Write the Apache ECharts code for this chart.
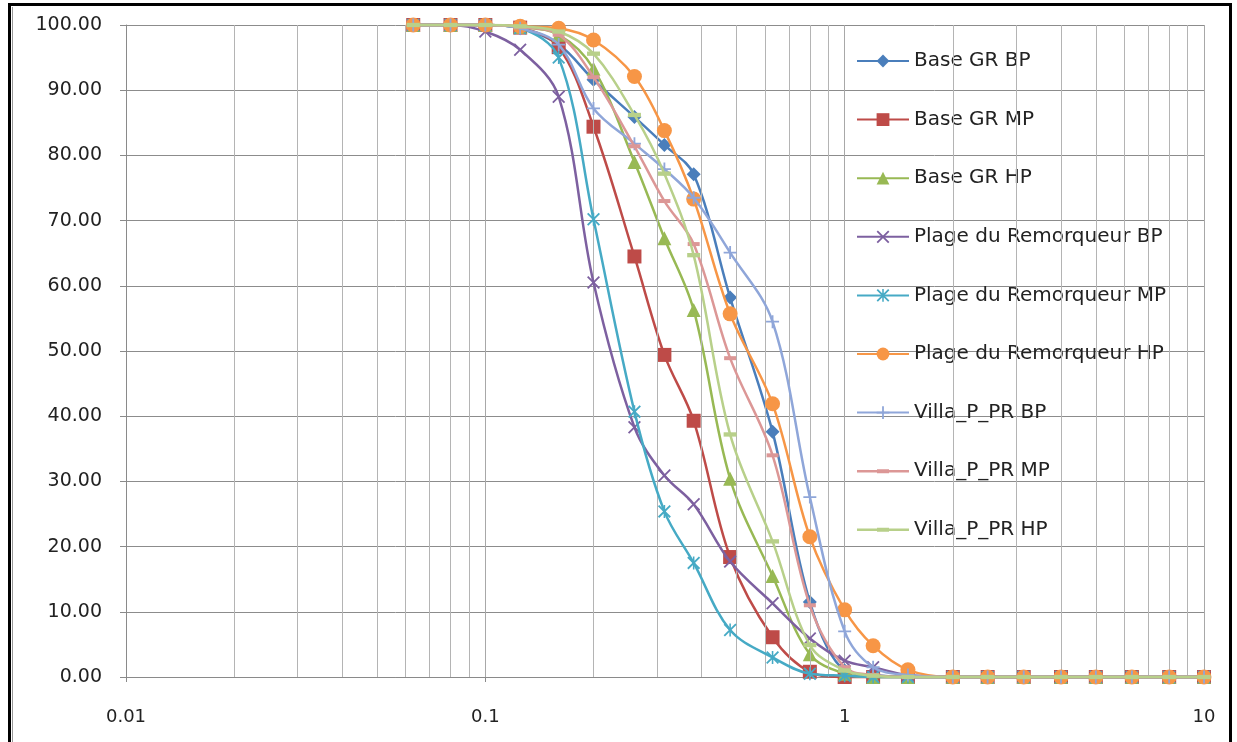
<!DOCTYPE html>
<html>
<head>
<meta charset="utf-8">
<script src="https://cdn.jsdelivr.net/npm/echarts@6/dist/echarts.min.js"></script>
<style>
  html, body { margin: 0; padding: 0; background: #fff; overflow: hidden; }
  #frame { position: absolute; left: 8px; top: 3px; width: 1218px; height: 760px; border: 3px solid #000; box-sizing: content-box; }
  #inner { position: absolute; left: 12px; top: 7px; width: 1214px; height: 760px; border-left: 1px solid #999; }
  #chart { position: absolute; left: 0; top: 0; width: 1237px; height: 742px; }
</style>
</head>
<body>
<div id="frame"></div>
<div id="inner"></div>
<div id="chart"></div>
<script>
// ---- data ----
const sizes = [0.063, 0.08, 0.1, 0.125, 0.16, 0.2, 0.26, 0.315, 0.38, 0.48, 0.63, 0.8, 1, 1.2, 1.5, 2, 2.5, 3.15, 4, 5, 6.3, 8, 10];
const baseGrBP = [100, 100, 100, 99.5, 97.0, 91.6, 85.9, 81.6, 77.1, 58.2, 37.6, 11.5, 1.0, 0.3, 0, 0, 0, 0, 0, 0, 0, 0, 0];
const baseGrMP = [100, 100, 100, 99.6, 96.6, 84.4, 64.5, 49.4, 39.3, 18.4, 6.1, 0.8, 0, 0, 0, 0, 0, 0, 0, 0, 0, 0, 0];
const baseGrHP = [100, 100, 100, 99.7, 98.5, 93.3, 79.0, 67.3, 56.3, 30.4, 15.5, 3.5, 0.5, 0, 0, 0, 0, 0, 0, 0, 0, 0, 0];
const plageBP = [100, 100, 99.0, 96.2, 89.0, 60.5, 38.3, 30.9, 26.5, 17.7, 11.3, 5.9, 2.5, 1.5, 0.3, 0, 0, 0, 0, 0, 0, 0, 0];
const plageMP = [100, 100, 100, 99.5, 95.0, 70.2, 40.7, 25.4, 17.5, 7.2, 3.0, 0.5, 0.2, 0, 0, 0, 0, 0, 0, 0, 0, 0, 0];
const plageHP = [100, 100, 100, 99.8, 99.5, 97.7, 92.1, 83.8, 73.3, 55.7, 41.9, 21.5, 10.3, 4.8, 1.1, 0, 0, 0, 0, 0, 0, 0, 0];
const villaBP = [100, 100, 100, 99.5, 97.0, 87.2, 81.8, 77.9, 73.5, 65.1, 54.5, 27.6, 7.0, 1.5, 0.3, 0, 0, 0, 0, 0, 0, 0, 0];
const villaMP = [100, 100, 100, 99.7, 98.5, 92.0, 81.4, 73.0, 66.4, 48.9, 34.0, 11.0, 1.5, 0.3, 0, 0, 0, 0, 0, 0, 0, 0, 0];
const villaHP = [100, 100, 100, 99.8, 99.0, 95.6, 86.2, 77.2, 64.7, 37.2, 20.8, 4.9, 1.0, 0.2, 0, 0, 0, 0, 0, 0, 0, 0, 0];
const seriesNames = ['Base GR BP', 'Base GR MP', 'Base GR HP', 'Plage du Remorqueur BP', 'Plage du Remorqueur MP', 'Plage du Remorqueur HP', 'Villa_P_PR BP', 'Villa_P_PR MP', 'Villa_P_PR HP'];
const xTickLabels = { '0.01': '0.01', '0.1': '0.1', '1': '1', '10': '10' };
const minorGridValues = [0.02, 0.03, 0.04, 0.05, 0.06, 0.07, 0.08, 0.09, 0.2, 0.3, 0.4, 0.5, 0.6, 0.7, 0.8, 0.9, 2, 3, 4, 5, 6, 7, 8, 9];

// ---- styles ----
const colors = ['#4a7ebb', '#be4b48', '#98b954', '#7d60a0', '#46aac5', '#f79646', '#8fa6d9', '#dc9796', '#b8d08a'];
const SYM_X = 'path://M0,1L1,0L10,9L9,10Z M9,0L10,1L1,10L0,9Z';
const SYM_STAR = 'path://M0,1L1,0L10,9L9,10Z M9,0L10,1L1,10L0,9Z M4.4,0H5.6V10H4.4Z';
const SYM_PLUS = 'path://M4.3,0H5.7V10H4.3Z M0,4.3H10V5.7H0Z';
const SYM_DASH = 'path://M0,0H12V4H0Z';
// legend icon for dash-marker series: line + dash, with tiny corner specks to fix the 52x16 box
const LEGEND_DASH_ICON = 'path://M0,0H0.01V0.01H0Z M51.99,15.99H52V16H51.99Z M0,6.8H52V9.2H0Z M20,6H32V10H20Z';
const symbols = ['diamond', 'rect', 'triangle', SYM_X, SYM_STAR, 'circle', SYM_PLUS, SYM_DASH, SYM_DASH];
const symbolSizes = [14, 14, 14, 13, 13, 15, 13, 12, 13];
const allData = [baseGrBP, baseGrMP, baseGrHP, plageBP, plageMP, plageHP, villaBP, villaMP, villaHP];

const series = [{
  name: '__grid',
  type: 'line',
  data: [],
  z: 1,
  silent: true,
  markLine: {
    silent: true,
    symbol: 'none',
    animation: false,
    label: { show: false },
    lineStyle: { color: '#b4b4b4', width: 1, type: 'solid' },
    data: minorGridValues.map(v => ({ xAxis: v }))
  }
}];
allData.forEach((arr, i) => {
  series.push({
    name: seriesNames[i],
    type: 'line',
    data: sizes.map((x, j) => [x, arr[j]]),
    smooth: 0.35,
    symbol: symbols[i],
    symbolSize: symbolSizes[i],
    symbolKeepAspect: true,
    showAllSymbol: true,
    clip: false,
    z: 2 + i,
    lineStyle: { color: colors[i], width: 2.5 },
    itemStyle: { color: colors[i] },
    animation: false
  });
});

const legendData = seriesNames.map((n, i) => (symbols[i] === SYM_DASH ? { name: n, icon: LEGEND_DASH_ICON } : { name: n }));

const chart = echarts.init(document.getElementById('chart'), null, { renderer: 'canvas' });
chart.setOption({
  animation: false,
  backgroundColor: 'transparent',
  grid: { left: 126, right: 33, top: 25, bottom: 65 },
  legend: {
    data: legendData,
    orient: 'vertical',
    left: 851,
    top: 46,
    itemWidth: 52,
    itemHeight: 16,
    itemGap: 38.6,
    textStyle: { fontFamily: 'DejaVu Sans', fontSize: 20, color: '#222' },
    selectedMode: false
  },
  xAxis: {
    type: 'log',
    logBase: 10,
    min: 0.01,
    max: 10,
    axisLine: { show: true, lineStyle: { color: '#8a8a8a', width: 1 } },
    axisTick: { show: true, length: 5, lineStyle: { color: '#8a8a8a' } },
    axisLabel: {
      margin: 31,
      fontFamily: 'DejaVu Sans',
      fontSize: 18,
      color: '#222',
      formatter: v => xTickLabels[String(+v.toPrecision(3))] || String(+v.toPrecision(3))
    },
    splitLine: { show: true, lineStyle: { color: '#a8a8a8', width: 1 } }
  },
  yAxis: {
    type: 'value',
    min: 0,
    max: 100,
    interval: 10,
    axisLine: { show: true, lineStyle: { color: '#8a8a8a', width: 1 } },
    axisTick: { show: true, length: 6, lineStyle: { color: '#8a8a8a' } },
    axisLabel: {
      margin: 24,
      fontFamily: 'DejaVu Sans',
      fontSize: 19,
      color: '#222',
      formatter: v => v.toFixed(2)
    },
    splitLine: { show: true, lineStyle: { color: '#8c8c8c', width: 1 } }
  },
  series: series
});
</script>
</body>
</html>
